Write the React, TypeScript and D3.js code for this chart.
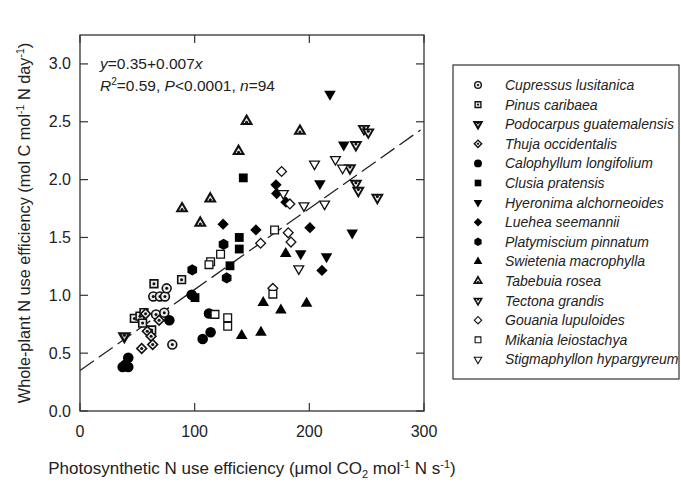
import React from 'react';
import * as d3 from 'd3';

const xTicks = [0, 100, 200, 300];
const yTicks = [0, 0.5, 1.0, 1.5, 2.0, 2.5, 3.0];

const cupressus = [[63.9, 0.99], [69.7, 0.99], [74.1, 0.99], [75.6, 1.06], [66.3, 0.835], [73.5, 0.85], [80.5, 0.574]];
const pinus = [[64.5, 1.10], [88.6, 1.135], [47.4, 0.80], [52.3, 0.82], [54.6, 0.76], [62.5, 0.70], [55.8, 0.85]];
const podocarpus = [[38.7, 0.646]];
const thuja = [[57.2, 0.84], [69.0, 0.785], [58.7, 0.69], [62.0, 0.646], [63.4, 0.575], [53.8, 0.54]];
const calophyllum = [[97.4, 1.005], [112.5, 0.843], [107.0, 0.623], [113.9, 0.68], [77.9, 0.785], [37.2, 0.38], [42.1, 0.38], [42.1, 0.46], [39.5, 0.40]];
const clusia = [[142.4, 2.015], [138.9, 1.50], [138.9, 1.40], [130.8, 1.255], [100.3, 0.98]];
const hyeronima = [[218.0, 2.74], [230.0, 2.30], [209.2, 1.965], [237.4, 1.54], [192.5, 1.36], [215.0, 1.335]];
const luehea = [[170.9, 1.955], [171.5, 1.88], [179.6, 1.805], [124.8, 1.615], [153.4, 1.565], [200.5, 1.585], [211.0, 1.215]];
const platymiscium = [[125.2, 1.44], [97.9, 1.22], [127.9, 1.15]];
const swietenia = [[179.4, 1.36], [141.0, 0.652], [157.8, 0.68], [159.8, 0.937], [175.2, 0.872], [197.6, 0.93]];
const tabebuia = [[145.3, 2.505], [138.3, 2.245], [191.8, 2.42], [113.6, 1.835], [89.0, 1.75], [104.9, 1.625]];
const tectona = [[240.6, 2.30], [247.6, 2.44], [251.4, 2.41], [235.4, 2.10], [240.6, 1.965], [242.7, 1.905], [259.3, 1.845]];
const gouania = [[175.8, 2.07], [183.0, 1.79], [157.5, 1.45], [181.6, 1.54], [184.0, 1.46], [168.2, 1.06]];
const mikania = [[113.9, 1.29], [122.6, 1.355], [169.7, 1.565], [117.7, 0.835], [128.8, 0.806], [128.8, 0.733], [168.2, 1.01], [112.5, 1.265]];
const stigmaphyllon = [[204.5, 2.135], [222.8, 2.175], [229.0, 2.10], [213.3, 1.79], [195.3, 1.775], [177.3, 1.88], [190.8, 1.23]];

const speciesNames = [
  'Cupressus lusitanica', 'Pinus caribaea', 'Podocarpus guatemalensis', 'Thuja occidentalis',
  'Calophyllum longifolium', 'Clusia pratensis', 'Hyeronima alchorneoides', 'Luehea seemannii',
  'Platymiscium pinnatum', 'Swietenia macrophylla', 'Tabebuia rosea', 'Tectona grandis',
  'Gouania lupuloides', 'Mikania leiostachya', 'Stigmaphyllon hypargyreum',
];
const speciesData = [cupressus, pinus, podocarpus, thuja, calophyllum, clusia, hyeronima, luehea,
  platymiscium, swietenia, tabebuia, tectona, gouania, mikania, stigmaphyllon];

const regIntercept = 0.35;
const regSlope = 0.007;
const regRange = [0, 297];

type Style = { kind: string; fill: string; sw: number; dot: boolean };
const styles: Style[] = [
  { kind: 'circle', fill: '#ececec', sw: 1.6, dot: true },
  { kind: 'square', fill: '#ececec', sw: 1.6, dot: true },
  { kind: 'triDown', fill: '#d0d0d0', sw: 2.4, dot: true },
  { kind: 'diamond', fill: '#ececec', sw: 1.6, dot: true },
  { kind: 'circle', fill: '#000', sw: 0, dot: false },
  { kind: 'square', fill: '#000', sw: 0, dot: false },
  { kind: 'triDown', fill: '#000', sw: 0, dot: false },
  { kind: 'diamond', fill: '#000', sw: 0, dot: false },
  { kind: 'hexagon', fill: '#000', sw: 0, dot: false },
  { kind: 'triUp', fill: '#000', sw: 0, dot: false },
  { kind: 'triUp', fill: '#ececec', sw: 2.1, dot: true },
  { kind: 'triDown', fill: '#ececec', sw: 1.9, dot: true },
  { kind: 'diamond', fill: '#fff', sw: 1.3, dot: false },
  { kind: 'square', fill: '#fff', sw: 1.3, dot: false },
  { kind: 'triDown', fill: '#fff', sw: 1.3, dot: false },
];

function markPath(st: Style, k: number): { d: string; rot: number } {
  const s = k * k;
  const open = st.sw > 0;
  if (st.kind === 'circle') return { d: d3.symbol(d3.symbolCircle, (open ? 62 : 88) * s)() as string, rot: 0 };
  if (st.kind === 'square') return { d: d3.symbol(d3.symbolSquare, (open ? 60 : 78) * s)() as string, rot: 0 };
  if (st.kind === 'diamond') return { d: d3.symbol(d3.symbolSquare, (open ? 48 : 64) * s)() as string, rot: 45 };
  if (st.kind === 'triUp') return { d: d3.symbol(d3.symbolTriangle, (open ? 40 : 58) * s)() as string, rot: 0 };
  if (st.kind === 'triDown') return { d: d3.symbol(d3.symbolTriangle, (open ? 42 : 58) * s)() as string, rot: 180 };
  const r = 5.6 * k;
  const pts = d3.range(6).map((i) => {
    const a = (Math.PI / 3) * i - Math.PI / 2;
    return [r * Math.cos(a), r * Math.sin(a)] as [number, number];
  });
  return { d: d3.line().curve(d3.curveLinearClosed)(pts) as string, rot: 0 };
}

function Marker({ st, x, y, k }: { st: Style; x: number; y: number; k: number }) {
  const { d, rot } = markPath(st, k);
  return (
    <g transform={`translate(${x},${y})`}>
      <path d={d} transform={rot ? `rotate(${rot})` : undefined} fill={st.fill}
        stroke={st.sw > 0 ? '#111' : 'none'} strokeWidth={st.sw * (k < 1 ? 0.85 : 1)} strokeLinejoin="miter" />
      {st.dot && <circle cx={0} cy={st.kind === 'triUp' ? 1 : st.kind === 'triDown' ? -1 : 0} r={1.5 * k} fill="#111" />}
    </g>
  );
}

export default function App() {
  const W = 681, H = 486;
  const x = d3.scaleLinear().domain([0, 300]).range([80, 424]);
  const y = d3.scaleLinear().domain([0, 3.25]).range([411, 35]);
  const font = 'Liberation Sans, Arial, Helvetica, sans-serif';
  const axisColor = '#333';
  const regLine = d3.line<number>().x((v) => x(v)).y((v) => y(regIntercept + regSlope * v))(regRange) as string;
  const legendX = 478, legendTextX = 505, legendY0 = 85, legendStep = 19.6;

  return (
    <svg width={W} height={H} style={{ position: 'absolute', left: 0, top: 0, background: '#fff' }} fontFamily={font}>
      <rect x={0} y={0} width={W} height={H} fill="#fff" />
      {/* frame */}
      <rect x={x(0)} y={y(3.25)} width={x(300) - x(0)} height={y(0) - y(3.25)} fill="none" stroke={axisColor} strokeWidth={1.3} />
      {xTicks.map((t) => (
        <g key={'xt' + t}>
          <line x1={x(t)} x2={x(t)} y1={y(0)} y2={y(0) - 8} stroke={axisColor} strokeWidth={1.2} />
          <line x1={x(t)} x2={x(t)} y1={y(3.25)} y2={y(3.25) + 8} stroke={axisColor} strokeWidth={1.2} />
          <text x={x(t)} y={437} textAnchor="middle" fontSize={16} fill="#222">{t}</text>
        </g>
      ))}
      {yTicks.map((t) => (
        <g key={'yt' + t}>
          <line x1={x(0)} x2={x(0) + 8} y1={y(t)} y2={y(t)} stroke={axisColor} strokeWidth={1.2} />
          <line x1={x(300)} x2={x(300) - 8} y1={y(t)} y2={y(t)} stroke={axisColor} strokeWidth={1.2} />
          <text x={71} y={y(t) + 5.5} textAnchor="end" fontSize={16} fill="#222">{t.toFixed(1)}</text>
        </g>
      ))}
      {/* regression */}
      <path d={regLine} fill="none" stroke="#222" strokeWidth={1.3} strokeDasharray="17,6" />
      {/* points */}
      {speciesData.map((arr, i) => (
        <g key={'s' + i}>
          {arr.map((p, j) => (
            <Marker key={j} st={styles[i]} x={x(p[0])} y={y(p[1])} k={1} />
          ))}
        </g>
      ))}
      {/* annotation */}
      <text x={100} y={69} fontSize={15.5} fill="#222">
        <tspan fontStyle="italic">y</tspan>=0.35+0.007<tspan fontStyle="italic">x</tspan>
      </text>
      <text x={100} y={91} fontSize={15.5} fill="#222">
        <tspan fontStyle="italic">R</tspan><tspan fontSize={10} dy={-6}>2</tspan><tspan dy={6}>=0.59, </tspan>
        <tspan fontStyle="italic">P</tspan>&lt;0.0001, <tspan fontStyle="italic">n</tspan>=94
      </text>
      {/* axis labels */}
      <text x={252} y={474} textAnchor="middle" fontSize={17} fill="#222">
        Photosynthetic N use efficiency (μmol CO<tspan fontSize={11} dy={4}>2</tspan>
        <tspan dy={-4}> mol</tspan><tspan fontSize={11} dy={-6}>-1</tspan>
        <tspan dy={6}> N s</tspan><tspan fontSize={11} dy={-6}>-1</tspan><tspan dy={6}>)</tspan>
      </text>
      <text transform="translate(30,223) rotate(-90)" textAnchor="middle" fontSize={16.3} fill="#222">
        Whole-plant N use efficiency (mol C mol<tspan fontSize={10.5} dy={-6}>-1</tspan>
        <tspan dy={6}> N day</tspan><tspan fontSize={10.5} dy={-6}>-1</tspan><tspan dy={6}>)</tspan>
      </text>
      {/* legend */}
      <rect x={453} y={65} width={226} height={314} fill="#fff" stroke={axisColor} strokeWidth={1.2} />
      {speciesNames.map((n, i) => (
        <g key={'l' + i}>
          <Marker st={styles[i]} x={legendX} y={legendY0 + i * legendStep} k={0.75} />
          <text x={legendTextX} y={legendY0 + i * legendStep + 5} fontSize={14} fontStyle="italic" fill="#222">{n}</text>
        </g>
      ))}
    </svg>
  );
}
